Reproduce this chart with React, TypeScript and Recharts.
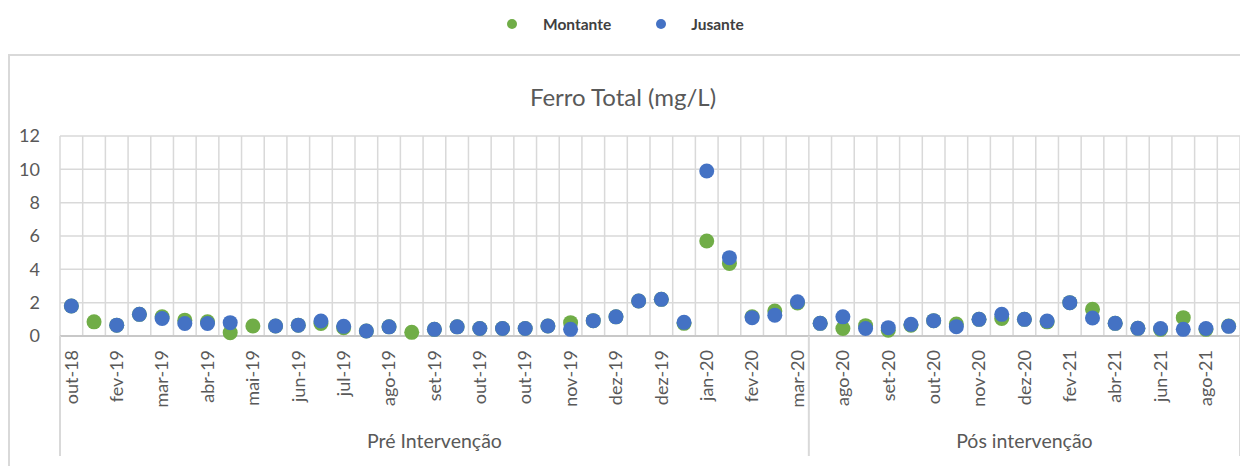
import React from 'react';
import { ComposedChart, Line, XAxis, YAxis, CartesianGrid } from 'recharts';

// tick labels shown on every other category
const tickLabels = [
  'out-18', 'fev-19', 'mar-19', 'abr-19', 'mai-19', 'jun-19', 'jul-19', 'ago-19', 'set-19',
  'out-19', 'out-19', 'nov-19', 'dez-19', 'dez-19', 'jan-20', 'fev-20', 'mar-20',
  'ago-20', 'set-20', 'out-20', 'nov-20', 'dez-20', 'fev-21', 'abr-21', 'jun-21', 'ago-21',
];

const montante = [
  1.8, 0.85, 0.65, 1.3, 1.15, 0.95, 0.85, 0.2, 0.6, 0.6, 0.65, 0.75, 0.5, 0.3, 0.55, 0.22, 0.4,
  0.55, 0.45, 0.45, 0.45, 0.6, 0.8, 0.92, 1.15, 2.1, 2.2, 0.76, 5.7, 4.35, 1.15, 1.5, 1.98,
  0.76, 0.45, 0.62, 0.35, 0.65, 0.92, 0.72, 1.0, 1.05, 1.0, 0.85, 2.0, 1.6, 0.76, 0.46, 0.4,
  1.1, 0.4, 0.6,
];

const jusante = [
  1.8, null, 0.65, 1.3, 1.05, 0.75, 0.75, 0.8, null, 0.6, 0.65, 0.9, 0.58, 0.3, 0.55, null, 0.4,
  0.55, 0.45, 0.45, 0.45, 0.6, 0.4, 0.92, 1.15, 2.1, 2.2, 0.82, 9.9, 4.7, 1.1, 1.25, 2.05,
  0.76, 1.15, 0.45, 0.5, 0.7, 0.92, 0.56, 1.0, 1.3, 1.0, 0.9, 2.0, 1.08, 0.76, 0.46, 0.45,
  0.4, 0.45, 0.58,
];

const groups = [
  { name: 'Pré Intervenção', size: 33 },
  { name: 'Pós intervenção', size: 19 },
];

const yTicks = [0, 2, 4, 6, 8, 10, 12];

const data = montante.map((m, i) => ({
  key: 'c' + i,
  label: i % 2 === 0 ? tickLabels[i / 2] : '',
  montante: m,
  jusante: jusante[i],
}));

const total = data.length;

// first category index of each group
const groupStarts: number[] = [];
groups.reduce((acc, g) => {
  groupStarts.push(acc);
  return acc + g.size;
}, 0);

const GREEN = '#70AD47';
const BLUE = '#4472C4';
const TEXT = '#595959';
const GRID = '#d9d9d9';

const LABEL_AREA = 92; // height of the month label row

// month label + the group row (separators and group names) under it
const CatTick = ({ x, y, index, width, visibleTicksCount }: any) => {
  const label = data[index] ? data[index].label : '';
  const bw = (width || 1180) / (visibleTicksCount || total);
  const top = y - 14;
  const bottom = top + LABEL_AREA + 28;
  const gi = groupStarts.indexOf(index);
  return (
    <g>
      {label && (
        <text
          x={x}
          y={y}
          transform={`rotate(-90 ${x} ${y})`}
          textAnchor="end"
          dy="0.35em"
          fill={TEXT}
          fontSize={18}
        >
          {label}
        </text>
      )}
      {gi >= 0 && (
        <>
          <line x1={x - bw / 2} x2={x - bw / 2} y1={top} y2={bottom} stroke={GRID} strokeWidth={2} />
          <text
            x={x - bw / 2 + (groups[gi].size * bw) / 2}
            y={top + LABEL_AREA + 13}
            textAnchor="middle"
            dy="0.35em"
            fill={TEXT}
            fontSize={19.5}
          >
            {groups[gi].name}
          </text>
        </>
      )}
      {index === total - 1 && (
        <line x1={x + bw / 2} x2={x + bw / 2} y1={top} y2={bottom} stroke={GRID} strokeWidth={2} />
      )}
    </g>
  );
};

const App = () => {
  return (
    <div
      style={{
        position: 'relative',
        width: 1240,
        height: 458,
        overflow: 'hidden',
        fontFamily: 'Lato, sans-serif',
      }}
    >
      {/* chart border */}
      <div
        style={{
          position: 'absolute',
          top: 46,
          left: 0,
          width: 1300,
          height: 500,
          border: `2px solid ${GRID}`,
          boxSizing: 'border-box',
        }}
      />
      {/* legend */}
      <div
        style={{
          position: 'absolute',
          top: 6,
          left: 499,
          display: 'flex',
          alignItems: 'center',
          height: 20,
          fontSize: 15.5,
          fontWeight: 'bold',
          color: '#404040',
        }}
      >
        <span style={{ width: 10, height: 10, borderRadius: 5, background: GREEN, display: 'inline-block' }} />
        <span style={{ marginLeft: 26 }}>Montante</span>
        <span
          style={{ width: 10, height: 10, borderRadius: 5, background: BLUE, display: 'inline-block', marginLeft: 45 }}
        />
        <span style={{ marginLeft: 25 }}>Jusante</span>
      </div>
      {/* title */}
      <div
        style={{
          position: 'absolute',
          top: 74,
          left: 0,
          width: 1230,
          textAlign: 'center',
          fontSize: 24,
          color: TEXT,
        }}
      >
        Ferro Total (mg/L)
      </div>
      <div style={{ position: 'absolute', top: 0, left: 0 }}>
        <ComposedChart
          width={1240}
          height={458}
          data={data}
          margin={{ top: 128, right: 8, left: 0, bottom: 8 }}
        >
          <CartesianGrid
            stroke={GRID}
            strokeWidth={1.5}
            verticalCoordinatesGenerator={({ offset }: any) =>
              Array.from({ length: total + 1 }, (_, k) => offset.left + (k * offset.width) / total)
            }
          />
          <XAxis
            dataKey="key"
            type="category"
            scale="band"
            interval={0}
            height={LABEL_AREA + 30}
            tickLine={false}
            tickSize={0}
            tickMargin={14}
            axisLine={{ stroke: '#c8c8c8', strokeWidth: 2 }}
            tick={<CatTick />}
          />
          <YAxis
            width={52}
            domain={[0, 12]}
            ticks={yTicks}
            interval={0}
            axisLine={false}
            tickLine={false}
            tickSize={0}
            tickMargin={20}
            tick={{ fill: TEXT, fontSize: 18 }}
          />
          <Line
            dataKey="montante"
            name="Montante"
            stroke="none"
            isAnimationActive={false}
            dot={{ r: 7.5, fill: GREEN, stroke: 'none' }}
            activeDot={false}
          />
          <Line
            dataKey="jusante"
            name="Jusante"
            stroke="none"
            isAnimationActive={false}
            dot={{ r: 7.5, fill: BLUE, stroke: 'none' }}
            activeDot={false}
          />
        </ComposedChart>
      </div>
    </div>
  );
};

export default App;
